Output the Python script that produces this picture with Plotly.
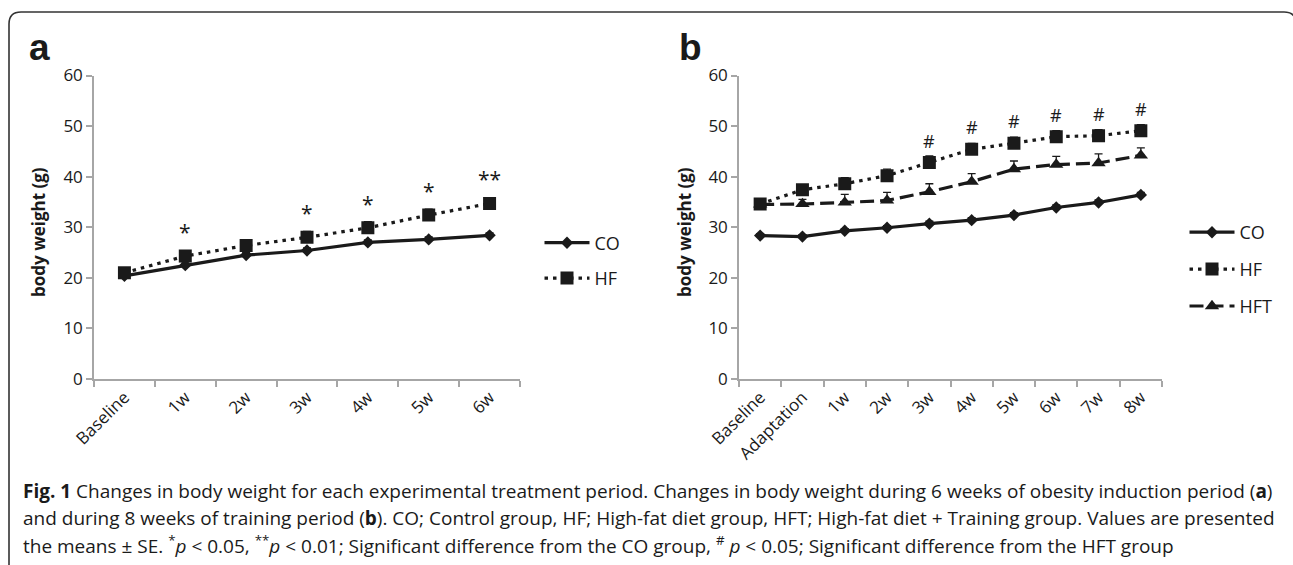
import plotly.graph_objects as go

# ---------------- data ----------------
categories_a = ["Baseline", "1w", "2w", "3w", "4w", "5w", "6w"]
co_a = [20.4, 22.5, 24.5, 25.4, 27.0, 27.6, 28.4]
co_a_se = [0.4, 0.4, 0.5, 0.5, 0.5, 0.5, 0.5]
hf_a = [21.0, 24.3, 26.4, 28.0, 29.9, 32.4, 34.7]
hf_a_se = [0.6, 0.8, 0.9, 1.2, 1.2, 1.2, 0.9]
sig_a = ["", "*", "", "*", "*", "*", "**"]

categories_b = ["Baseline", "Adaptation", "1w", "2w", "3w", "4w", "5w", "6w", "7w", "8w"]
co_b = [28.35, 28.15, 29.3, 29.9, 30.7, 31.4, 32.4, 33.9, 34.9, 36.4]
co_b_se = [0.4, 0.4, 0.4, 0.4, 0.5, 0.5, 0.5, 0.5, 0.5, 0.5]
hf_b = [34.6, 37.4, 38.6, 40.2, 42.8, 45.4, 46.6, 47.9, 48.1, 49.1]
hf_b_se = [0.8, 1.0, 1.2, 1.3, 1.3, 1.2, 1.2, 1.2, 1.2, 1.2]
hft_b = [34.5, 34.6, 34.9, 35.3, 37.0, 39.0, 41.5, 42.4, 42.7, 44.2]
hft_b_se = [0.8, 0.9, 1.6, 1.6, 1.6, 1.6, 1.6, 1.6, 1.8, 1.5]
sig_b = ["", "", "", "", "#", "#", "#", "#", "#", "#"]

y_ticks = [0, 10, 20, 30, 40, 50, 60]
y_title = "body weight (g)"

caption_lines = [
    "<b>Fig. 1</b> Changes in body weight for each experimental treatment period. "
    "Changes in body weight during 6 weeks of obesity induction period (<b>a</b>)",
    "and during 8 weeks of training period (<b>b</b>). CO; Control group, HF; High-fat diet group, "
    "HFT; High-fat diet + Training group. Values are presented",
    "the means ± SE. <sup>*</sup><i>p</i> &lt; 0.05, <sup>**</sup><i>p</i> &lt; 0.01; "
    "Significant difference from the CO group, <sup>#</sup> <i>p</i> &lt; 0.05; "
    "Significant difference from the HFT group",
]

# ---------------- geometry helpers (pixels -> paper) ----------------
W, H = 1293, 565


def px(x):
    return x / W


def py(y):
    return 1 - y / H


FONT = "Open Sans"
INK = "#1a1a1a"
AXIS = "#a6a6a6"

fig = go.Figure()


def line_trace(x, y, se, name, dash, symbol, size, xa, ya, legend, rank, group):
    return go.Scatter(
        x=x, y=y, name=name, mode="lines+markers",
        line=dict(color=INK, width=3.2, dash=dash),
        marker=dict(symbol=symbol, size=size, color=INK, line=dict(width=0)),
        error_y=dict(type="data", array=se, symmetric=False, arrayminus=[0] * len(se),
                     color=INK, thickness=1.3, width=4),
        xaxis=xa, yaxis=ya, legend=legend, legendrank=rank, legendgroup=group,
    )


DOT = "3.5px,5px"
DASH = "14px,6px"

# panel a
fig.add_trace(line_trace(categories_a, co_a, co_a_se, "CO", "solid", "diamond", 9.5, "x", "y", "legend", 1, "a1"))
fig.add_trace(line_trace(categories_a, hf_a, hf_a_se, "HF", DOT, "square", 13, "x", "y", "legend", 2, "a2"))
# panel b
fig.add_trace(line_trace(categories_b, co_b, co_b_se, "CO", "solid", "diamond", 9.5, "x2", "y2", "legend2", 1, "b1"))
fig.add_trace(line_trace(categories_b, hft_b, hft_b_se, "HFT", DASH, "triangle-up", 12.5, "x2", "y2", "legend2", 3, "b3"))
fig.add_trace(line_trace(categories_b, hf_b, hf_b_se, "HF", DOT, "square", 13, "x2", "y2", "legend2", 2, "b2"))

xaxis_common = dict(
    type="category", showline=True, linecolor=AXIS, linewidth=1.5, automargin=False,
    ticks="outside", tickson="boundaries", ticklen=6, tickcolor=AXIS, tickwidth=1.5,
    tickangle=-45, showgrid=False, zeroline=False,
    tickfont=dict(family=FONT, size=17, color=INK), fixedrange=True,
)
yaxis_common = dict(
    range=[0, 60], tickvals=y_ticks, showline=True, linecolor=AXIS, linewidth=1.5, automargin=False,
    ticks="outside", ticklen=6, tickcolor=AXIS, tickwidth=1.5, showgrid=False, zeroline=False,
    tickfont=dict(family=FONT, size=17, color=INK), fixedrange=True,
)

y_dom = [py(379), py(75.5)]

fig.update_layout(
    template="none",
    width=W, height=H, autosize=False,
    margin=dict(l=0, r=0, t=0, b=0, pad=0),
    paper_bgcolor="white", plot_bgcolor="white",
    xaxis=dict(xaxis_common, domain=[px(94), px(520)], range=[-0.5, len(categories_a) - 0.5], anchor="y"),
    yaxis=dict(yaxis_common, domain=y_dom, anchor="x"),
    xaxis2=dict(xaxis_common, domain=[px(739), px(1162)], range=[-0.5, len(categories_b) - 0.5], anchor="y2"),
    yaxis2=dict(yaxis_common, domain=y_dom, anchor="x2"),
    legend=dict(x=px(539.5), y=py(224.5), xanchor="left", yanchor="top",
                font=dict(family=FONT, size=18, color=INK), tracegroupgap=9,
                itemwidth=45, bgcolor="rgba(0,0,0,0)"),
    legend2=dict(x=px(1184.5), y=py(214), xanchor="left", yanchor="top",
                 font=dict(family=FONT, size=18, color=INK), tracegroupgap=10.5,
                 itemwidth=45, bgcolor="rgba(0,0,0,0)"),
    showlegend=True,
)

annotations = []
# significance marks
for c, v, s in zip(categories_a, hf_a, sig_a):
    if s:
        annotations.append(dict(x=c, y=v, xref="x", yref="y", text=s, showarrow=False,
                                yanchor="middle", yshift=24,
                                font=dict(family=FONT, size=21, color=INK)))
for c, v, s in zip(categories_b, hf_b, sig_b):
    if s:
        annotations.append(dict(x=c, y=v, xref="x2", yref="y2", text=s, showarrow=False,
                                yanchor="middle", yshift=22,
                                font=dict(family=FONT, size=18, color=INK)))
# axis titles
for xpix in (38, 684):
    annotations.append(dict(x=px(xpix), y=py(232), xref="paper", yref="paper", text="<b>%s</b>" % y_title,
                            textangle=-90, showarrow=False, xanchor="center", yanchor="middle",
                            font=dict(family=FONT, size=17, color=INK)))
# panel letters
for letter, xpix in (("a", 27), ("b", 677)):
    annotations.append(dict(x=px(xpix), y=py(47.5), xref="paper", yref="paper", text="<b>%s</b>" % letter,
                            showarrow=False, xanchor="left", yanchor="middle",
                            font=dict(family="Liberation Sans", size=37, color=INK)))
# caption
for i, line in enumerate(caption_lines):
    annotations.append(dict(x=px(21), y=py(491 + 27 * i), xref="paper", yref="paper", text=line,
                            showarrow=False, xanchor="left", yanchor="middle", align="left",
                            font=dict(family=FONT, size=19, color=INK)))
fig.update_layout(annotations=annotations)

# rounded frame
r = 12
L, T, R, B = 9, 12, 1296, 620
path = (f"M {px(L)},{py(B)} L {px(L)},{py(T + r)} Q {px(L)},{py(T)} {px(L + r)},{py(T)} "
        f"L {px(R - r)},{py(T)} Q {px(R)},{py(T)} {px(R)},{py(T + r)} L {px(R)},{py(B)}")
fig.add_shape(type="path", path=path, xref="paper", yref="paper",
              line=dict(color="#333333", width=1.6), layer="above")

fig.write_html("out.html", config={"displayModeBar": False},
               post_script="document.body.style.margin='0';document.body.style.overflow='hidden';")
